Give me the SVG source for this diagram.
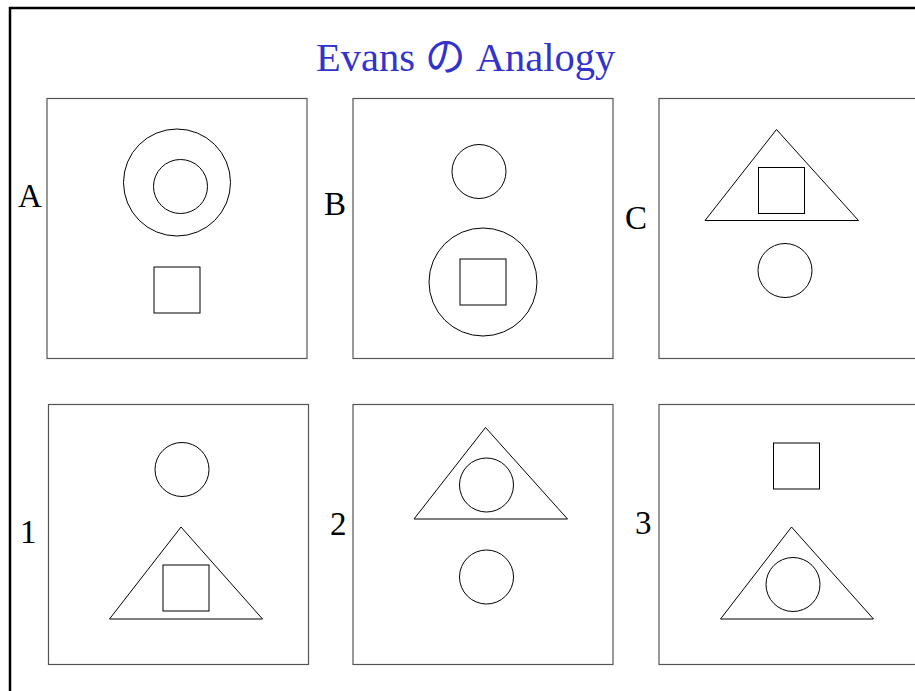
<svg xmlns="http://www.w3.org/2000/svg" width="915" height="691" viewBox="0 0 915 691">
<style>
.frame{fill:none;stroke:#000;stroke-width:2.5}
.panel{fill:#fff;stroke:#555;stroke-width:1.2}
.s{fill:none;stroke:#000;stroke-width:1}
.lbl{font-family:"Liberation Serif","Times New Roman",serif;font-size:33px;fill:#000}
.title{font-family:"Liberation Serif","Noto Sans CJK JP",serif;font-size:40.5px;fill:#3333cc}
</style>
<rect x="0" y="0" width="915" height="691" fill="#fff"/>
<rect class="frame" x="10" y="8" width="920" height="700"/>
<text class="title" x="316" y="70.5">Evans の Analogy</text>
<g id="panelA">
<rect class="panel" x="47" y="98.5" width="260" height="260"/>
<circle class="s" cx="177" cy="182.5" r="53.5"/>
<circle class="s" cx="180.5" cy="186.5" r="27"/>
<rect class="s" x="154" y="267" width="46" height="46"/>
<text class="lbl" x="18" y="207">A</text>
</g>
<g id="panelB">
<rect class="panel" x="353" y="98.5" width="260" height="260"/>
<circle class="s" cx="479" cy="171.5" r="27"/>
<circle class="s" cx="483" cy="282" r="54"/>
<rect class="s" x="460" y="259" width="46" height="46"/>
<text class="lbl" x="324" y="215">B</text>
</g>
<g id="panelC">
<rect class="panel" x="659" y="98.5" width="260" height="260"/>
<polygon class="s" points="776.5,129.5 705,220.5 858.5,220.5"/>
<rect class="s" x="758.5" y="167.5" width="46" height="46"/>
<circle class="s" cx="785" cy="270.5" r="27"/>
<text class="lbl" x="625" y="229">C</text>
</g>
<g id="panel1">
<rect class="panel" x="48.5" y="404.5" width="260" height="260"/>
<circle class="s" cx="182" cy="469.5" r="27"/>
<polygon class="s" points="181,527 109.5,619 262.5,619"/>
<rect class="s" x="163" y="565" width="46" height="46"/>
<text class="lbl" x="20" y="543">1</text>
</g>
<g id="panel2">
<rect class="panel" x="353" y="404.5" width="260" height="260"/>
<polygon class="s" points="485.5,427.5 414,519 567.5,519"/>
<circle class="s" cx="486.5" cy="485" r="27"/>
<circle class="s" cx="486.5" cy="577" r="27"/>
<text class="lbl" x="330" y="535">2</text>
</g>
<g id="panel3">
<rect class="panel" x="659" y="404.5" width="260" height="260"/>
<rect class="s" x="773.5" y="443" width="46" height="46"/>
<polygon class="s" points="791.5,527 720.5,619 873.5,619"/>
<circle class="s" cx="793" cy="584.5" r="27"/>
<text class="lbl" x="635" y="534">3</text>
</g>
<g id="connectors"></g>
</svg>
